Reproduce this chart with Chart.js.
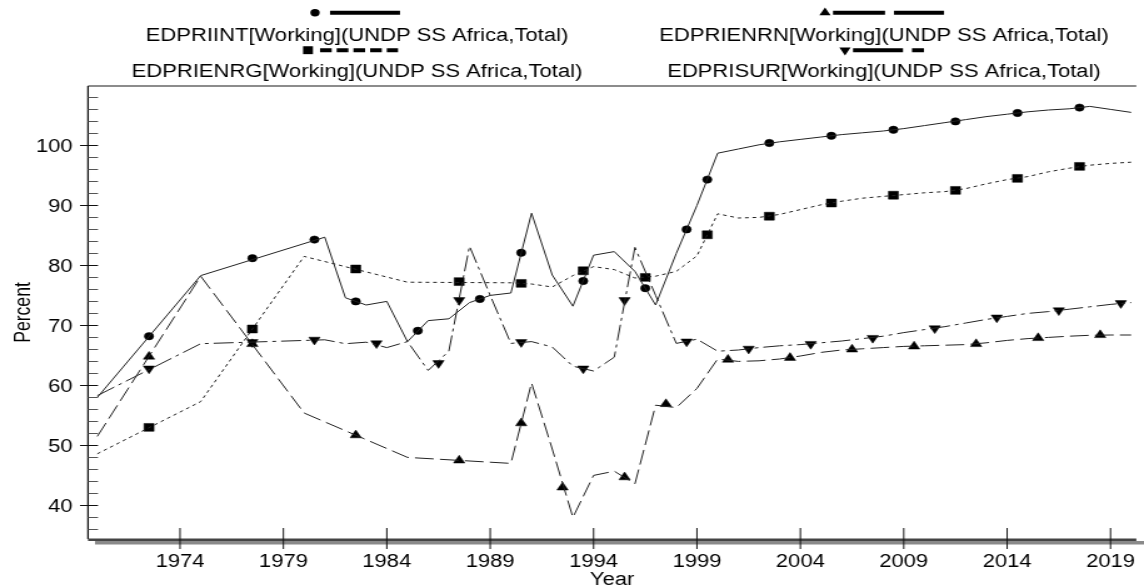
<!DOCTYPE html>
<html>
<head>
<meta charset="utf-8">
<script src="https://cdn.jsdelivr.net/npm/chart.js@4.4.1/dist/chart.umd.min.js"></script>
<style>
  html, body { margin: 0; padding: 0; background: #fff; }
  #chart { display: block; }
</style>
</head>
<body>
<!-- drawn at 915px wide and stretched to 1144px, like the original export -->
<canvas id="chart" width="915" height="588" style="width:1144px;height:588px"></canvas>
<script>
// EDPRIINT
const intYears = [1970, 1975, 1981, 1982, 1983, 1984, 1985, 1986, 1987, 1988, 1989, 1990, 1991, 1992, 1993, 1994, 1995, 1996, 1997, 1998, 1999, 2000, 2001, 2002, 2003, 2004, 2005, 2006, 2007, 2008, 2009, 2010, 2011, 2012, 2013, 2014, 2015, 2016, 2017, 2018, 2019, 2020];
const intValues = [58.0, 78.3, 84.7, 74.6, 73.4, 74.0, 67.3, 70.8, 71.1, 73.8, 75.0, 75.4, 88.7, 78.4, 73.2, 81.7, 82.3, 79.0, 73.4, 82.0, 90.0, 98.7, 99.4, 100.1, 100.6, 101.0, 101.4, 101.8, 102.1, 102.4, 102.8, 103.3, 103.8, 104.3, 104.8, 105.2, 105.6, 105.9, 106.1, 106.5, 106.0, 105.5];
const intMarkYears = [1972.5, 1977.5, 1980.5, 1982.5, 1985.5, 1988.5, 1990.5, 1993.5, 1996.5, 1998.5, 1999.5, 2002.5, 2005.5, 2008.5, 2011.5, 2014.5, 2017.5];
const intMarkValues = [68.2, 81.2, 84.3, 74.0, 69.1, 74.4, 82.1, 77.4, 76.2, 86.0, 94.3, 100.4, 101.6, 102.6, 104.0, 105.4, 106.3];

// EDPRIENRG
const enrgYears = [1970, 1975, 1980, 1985, 1990, 1991, 1992, 1993, 1994, 1995, 1996, 1997, 1998, 1999, 2000, 2001, 2002, 2003, 2004, 2005, 2006, 2007, 2008, 2009, 2010, 2011, 2012, 2013, 2014, 2015, 2016, 2017, 2018, 2019, 2020];
const enrgValues = [48.6, 57.3, 81.5, 77.2, 77.1, 76.9, 76.4, 78.3, 79.8, 79.3, 77.9, 78.2, 79.0, 81.6, 88.6, 87.9, 88.0, 88.5, 89.3, 90.1, 90.7, 91.2, 91.5, 91.8, 92.1, 92.3, 92.8, 93.6, 94.3, 94.8, 95.6, 96.2, 96.7, 97.0, 97.2];
const enrgMarkYears = [1972.5, 1977.5, 1982.5, 1987.5, 1990.5, 1993.5, 1996.5, 1999.5, 2002.5, 2005.5, 2008.5, 2011.5, 2014.5, 2017.5];
const enrgMarkValues = [53.0, 69.4, 79.4, 77.3, 77.0, 79.1, 78.0, 85.1, 88.2, 90.4, 91.7, 92.5, 94.5, 96.5];

// EDPRIENRN
const enrnYears = [1970, 1975, 1980, 1985, 1990, 1991, 1992, 1993, 1994, 1995, 1996, 1997, 1998, 1999, 2000, 2001, 2002, 2003, 2004, 2005, 2006, 2007, 2008, 2009, 2010, 2011, 2012, 2013, 2014, 2015, 2016, 2017, 2018, 2019, 2020];
const enrnValues = [51.5, 78.2, 55.4, 48.0, 47.0, 60.4, 49.4, 38.0, 45.0, 45.7, 43.6, 56.7, 56.3, 59.5, 64.4, 64.0, 64.1, 64.4, 64.9, 65.5, 65.9, 66.1, 66.3, 66.5, 66.6, 66.7, 66.8, 67.1, 67.5, 67.8, 68.0, 68.2, 68.35, 68.4, 68.4];
const enrnMarkYears = [1972.5, 1977.5, 1982.5, 1987.5, 1990.5, 1992.5, 1995.5, 1997.5, 2000.5, 2003.5, 2006.5, 2009.5, 2012.5, 2015.5, 2018.5];
const enrnMarkValues = [64.8, 66.9, 51.7, 47.5, 53.7, 43.0, 44.7, 56.9, 64.3, 64.6, 66.0, 66.5, 66.9, 67.9, 68.4];

// EDPRISUR
const surYears = [1970, 1975, 1981, 1982, 1983, 1984, 1985, 1986, 1987, 1988, 1989, 1990, 1991, 1992, 1993, 1994, 1995, 1996, 1997, 1998, 1999, 2000, 2001, 2002, 2003, 2004, 2005, 2006, 2007, 2008, 2009, 2010, 2011, 2012, 2013, 2014, 2015, 2016, 2017, 2018, 2019, 2020];
const surValues = [58.3, 66.95, 67.6, 66.95, 67.2, 66.3, 67.3, 62.5, 65.7, 83.2, 75.0, 67.0, 67.3, 66.4, 63.2, 62.4, 64.7, 83.0, 75.0, 67.0, 67.7, 65.7, 65.9, 66.3, 66.6, 66.8, 67.1, 67.4, 67.8, 68.2, 68.8, 69.3, 69.8, 70.4, 71.0, 71.5, 72.0, 72.3, 72.7, 73.1, 73.5, 73.8];
const surMarkYears = [1972.5, 1977.5, 1980.5, 1983.5, 1986.5, 1987.5, 1990.5, 1993.5, 1995.5, 1998.5, 2001.5, 2004.5, 2007.5, 2010.5, 2013.5, 2016.5, 2019.5];
const surMarkValues = [62.8, 67.2, 67.6, 67.0, 63.7, 74.2, 67.2, 62.8, 74.2, 67.3, 66.1, 66.9, 67.9, 69.5, 71.3, 72.5, 73.7];

const seriesNames = [
  'EDPRIINT[Working](UNDP SS Africa,Total)',
  'EDPRIENRG[Working](UNDP SS Africa,Total)',
  'EDPRIENRN[Working](UNDP SS Africa,Total)',
  'EDPRISUR[Working](UNDP SS Africa,Total)'
];
const xTickYears = [1974, 1979, 1984, 1989, 1994, 1999, 2004, 2009, 2014, 2019];
const yTickLabels = [40, 50, 60, 70, 80, 90, 100];

const SX = 1144 / 915;  // horizontal stretch of the canvas
const FONT = '17.6px "Liberation Sans", Arial, sans-serif';
const LINE = '#222';

function pts(xs, ys) {
  return xs.map((x, i) => ({ x: x, y: ys[i] }));
}

function lineSet(xs, ys, dash) {
  return {
    data: pts(xs, ys),
    borderColor: LINE,
    borderWidth: 1,
    borderDash: dash,
    pointRadius: 0,
    fill: false,
    tension: 0
  };
}

function markSet(xs, ys, style, r, rot) {
  return {
    data: pts(xs, ys),
    showLine: false,
    pointStyle: style,
    pointRadius: r,
    pointRotation: rot || 0,
    pointBackgroundColor: '#000',
    pointBorderColor: '#000',
    pointBorderWidth: 0.5
  };
}

function drawMarker(ctx, style, x, y, r, rot) {
  ctx.beginPath();
  if (style === 'circle') {
    ctx.arc(x, y, r, 0, Math.PI * 2);
  } else if (style === 'rect') {
    const s = r * Math.SQRT1_2;
    ctx.rect(x - s, y - s, 2 * s, 2 * s);
  } else {
    const d = rot ? -1 : 1;
    ctx.moveTo(x, y - d * r);
    ctx.lineTo(x + r * 0.866, y + d * r / 2);
    ctx.lineTo(x - r * 0.866, y + d * r / 2);
    ctx.closePath();
  }
  ctx.fill();
}

// legend entries: column centre, row, marker and sample line (screen px from centre)
const legendItems = [
  { name: seriesNames[0], cx: 357, row: 0, style: 'circle', r: 3.7, rot: 0, mx: -42, x0: -27, x1: 43, dash: [] },
  { name: seriesNames[1], cx: 357, row: 1, style: 'rect', r: 5.6, rot: 0, mx: -49, x0: -37, x1: 41, dash: [11.7, 5] },
  { name: seriesNames[2], cx: 884, row: 0, style: 'triangle', r: 5.2, rot: 0, mx: -59, x0: -51, x1: 60, dash: [52, 9] },
  { name: seriesNames[3], cx: 884, row: 1, style: 'triangle', r: 5.2, rot: 180, mx: -39, x0: -31, x1: 40, dash: [50, 9, 12, 100] }
];

const decor = {
  id: 'decor',
  afterDraw(chart) {
    const { ctx, chartArea: a, scales: { x, y } } = chart;
    ctx.save();

    // frame
    ctx.strokeStyle = '#666';
    ctx.lineWidth = 1.3;
    ctx.beginPath();
    ctx.moveTo(a.left, a.top);
    ctx.lineTo(a.right, a.top);
    ctx.stroke();

    ctx.strokeStyle = '#111';
    ctx.lineWidth = 1.3;
    ctx.beginPath();
    ctx.moveTo(a.left, a.top);
    ctx.lineTo(a.left, a.bottom);
    ctx.stroke();

    ctx.fillStyle = '#8a8a8a';
    ctx.fillRect(95 / SX, a.bottom + 2, a.right, 3.5);
    ctx.fillStyle = '#444';
    ctx.fillRect(a.left, a.bottom - 0.5, a.right - a.left, 2.5);

    // y ticks
    ctx.lineWidth = 1;
    y.ticks.forEach(t => {
      const py = Math.round(y.getPixelForValue(t.value)) + 0.5;
      const major = yTickLabels.includes(t.value);
      ctx.strokeStyle = major ? '#111' : '#555';
      ctx.beginPath();
      ctx.moveTo(major ? a.left - 8 / SX : a.left, py);
      ctx.lineTo(a.left + 10 / SX, py);
      ctx.stroke();
    });

    // x ticks
    ctx.strokeStyle = '#111';
    x.ticks.forEach(t => {
      const px = x.getPixelForValue(t.value);
      ctx.beginPath();
      ctx.moveTo(px, a.bottom - 11);
      ctx.lineTo(px, a.bottom + 10);
      ctx.stroke();
    });

    // tick labels
    ctx.fillStyle = '#000';
    ctx.font = FONT;
    ctx.textBaseline = 'alphabetic';
    ctx.textAlign = 'right';
    yTickLabels.forEach(v => {
      ctx.fillText(String(v), 72.7 / SX, y.getPixelForValue(v) + 6.3);
    });
    ctx.textAlign = 'center';
    xTickYears.forEach(v => {
      ctx.fillText(String(v), x.getPixelForValue(v), 566.5);
    });

    // axis titles
    ctx.fillText('Year', (a.left + a.right) / 2, 585);
    ctx.save();
    ctx.translate(24, (a.top + a.bottom) / 2);
    ctx.rotate(-Math.PI / 2);
    ctx.fillText('Percent', 0, 0);
    ctx.restore();

    // legend
    const rowText = [40.7, 76.7];
    const rowMark = [12.7, 50.2];
    legendItems.forEach(it => {
      const c = it.cx / SX;
      const my = rowMark[it.row];
      ctx.fillStyle = '#000';
      ctx.textAlign = 'center';
      ctx.fillText(it.name, c, rowText[it.row]);
      drawMarker(ctx, it.style, c + it.mx / SX, my, it.r, it.rot);
      ctx.strokeStyle = '#000';
      ctx.lineWidth = 4;
      ctx.setLineDash(it.dash.map(d => d / SX));
      ctx.beginPath();
      ctx.moveTo(c + it.x0 / SX, my);
      ctx.lineTo(c + it.x1 / SX, my);
      ctx.stroke();
      ctx.setLineDash([]);
    });

    ctx.restore();
  }
};

const ctx = document.getElementById('chart').getContext('2d');
new Chart(ctx, {
  type: 'line',
  data: {
    datasets: [
      lineSet(intYears, intValues, []),
      lineSet(enrgYears, enrgValues, [3, 3]),
      lineSet(enrnYears, enrnValues, [15, 5]),
      lineSet(surYears, surValues, [16, 4, 3, 4]),
      markSet(intMarkYears, intMarkValues, 'circle', 3.7),
      markSet(enrgMarkYears, enrgMarkValues, 'rect', 5.6),
      markSet(enrnMarkYears, enrnMarkValues, 'triangle', 5.2),
      markSet(surMarkYears, surMarkValues, 'triangle', 5.2, 180)
    ]
  },
  options: {
    responsive: false,
    animation: false,
    devicePixelRatio: 1,
    layout: { padding: { top: 86, left: 0, right: 0, bottom: 0 } },
    plugins: {
      legend: { display: false },
      tooltip: { enabled: false }
    },
    scales: {
      x: {
        type: 'linear',
        min: 1969.55,
        max: 2020.25,
        grid: { display: false, drawTicks: false },
        border: { display: false },
        ticks: { display: false },
        afterBuildTicks: s => { s.ticks = xTickYears.map(v => ({ value: v })); },
        afterFit: s => { s.height = 49; }
      },
      y: {
        min: 34.4,
        max: 109.9,
        grid: { display: false, drawTicks: false },
        border: { display: false },
        ticks: { display: false },
        afterBuildTicks: s => {
          const t = [];
          for (let v = 36; v <= 108; v += 2) t.push({ value: v });
          s.ticks = t;
        },
        afterFit: s => { s.width = 88 / SX; }
      }
    }
  },
  plugins: [decor]
});
</script>
</body>
</html>
